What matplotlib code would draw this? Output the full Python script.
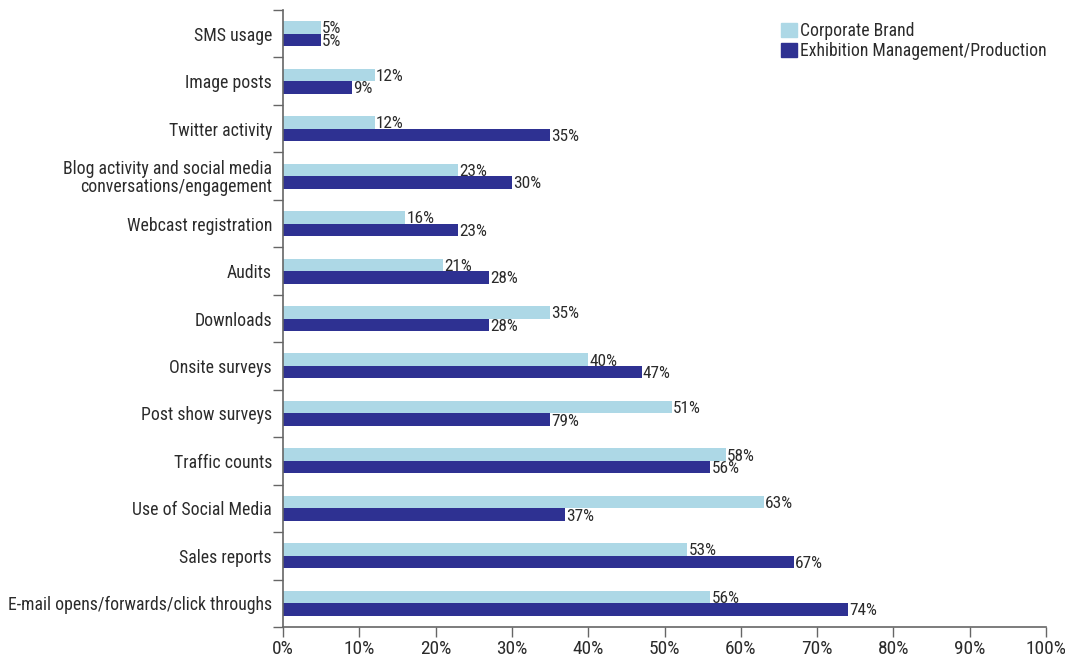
import matplotlib
matplotlib.use("Agg")
import matplotlib.pyplot as plt
from matplotlib import font_manager as fm
from matplotlib.ticker import FixedLocator, PercentFormatter
from matplotlib.patches import Patch
from matplotlib.transforms import ScaledTranslation

categories = ["SMS usage", "Image posts", "Twitter activity",
              "Blog activity and social media\nconversations/engagement",
              "Webcast registration", "Audits", "Downloads", "Onsite surveys",
              "Post show surveys", "Traffic counts", "Use of Social Media",
              "Sales reports", "E-mail opens/forwards/click throughs"]
corporate = [5, 12, 12, 23, 16, 21, 35, 40, 51, 58, 63, 53, 56]
exhibition = [5, 9, 35, 30, 23, 27, 27, 47, 35, 56, 37, 67, 74]
corporate_labels = ["5%", "12%", "12%", "23%", "16%", "21%", "35%", "40%", "51%", "58%", "63%", "53%", "56%"]
exhibition_labels = ["5%", "9%", "35%", "30%", "23%", "28%", "28%", "47%", "79%", "56%", "37%", "67%", "74%"]
xticks = [0, 10, 20, 30, 40, 50, 60, 70, 80, 90, 100]
series_names = ["Corporate Brand", "Exhibition Management/Production"]

light = "#ADD8E6"
dark = "#2E3192"
txt = "#2b2b2b"
axcol = "#666666"

# choose a condensed sans font if one is installed
names = sorted({f.name for f in fm.fontManager.ttflist})
family = None
stretch = "normal"
for pref in ["Liberation Sans Narrow", "Roboto Condensed", "Open Sans Condensed",
             "Noto Sans Condensed", "DejaVu Sans Condensed"]:
    if pref in names:
        family = pref
        break
if family is None:
    others = [n for n in names if ("Condensed" in n or "Narrow" in n) and "Mono" not in n and "Serif" not in n]
    if others:
        family = others[0]
if family is None:
    cond = [f for f in fm.fontManager.ttflist if f.name == "DejaVu Sans" and str(f.stretch) in ("condensed", "semi-condensed", "575", "500") and f.weight in (400, "normal")]
    if cond:
        family = "DejaVu Sans"
        stretch = "condensed"
if family is None:
    family = "Liberation Sans"
plt.rcParams['font.family'] = [family, 'DejaVu Sans']
plt.rcParams['font.stretch'] = stretch

fig = plt.figure(figsize=(10.65, 6.56), dpi=100)
renderer = fig.canvas.get_renderer()

def fit_size(s, target_px, base=10.0):
    t = fig.text(0, 0, s, fontsize=base)
    w = t.get_window_extent(renderer).width
    t.remove()
    return base * target_px / w

ylab_fs = min(fit_size("E-mail opens/forwards/click throughs", 264), 13.5)
xlab_fs = min(fit_size("80%", 31), 14)
bar_fs = min(fit_size("74%", 28), 12.5)
leg_fs = min(fit_size(series_names[1], 246), 13.5)

ax = fig.add_axes([283/1065, 1-627/656, (1046-283)/1065, (627-10)/656])

n = len(categories)
h = 0.264
ys = list(range(n))
ax.barh([y - h/2 for y in ys], corporate, height=h, color=light)
ax.barh([y + h/2 for y in ys], exhibition, height=h, color=dark)

for y, v, lab in zip(ys, corporate, corporate_labels):
    ax.text(v + 0.15, y - h/2 + 0.03, lab, va="center", ha="left", fontsize=bar_fs, color=txt)
for y, v, lab in zip(ys, exhibition, exhibition_labels):
    ax.text(v + 0.15, y + h/2 + 0.03, lab, va="center", ha="left", fontsize=bar_fs, color=txt)

ax.set_xlim(0, 100)
ax.set_ylim(n - 0.5, -0.5)
ax.set_xticks(xticks)
ax.xaxis.set_major_formatter(PercentFormatter(decimals=0))
ax.set_yticks(ys)
ax.set_yticklabels(categories, fontsize=ylab_fs, color=txt, linespacing=1.0)
shift = ScaledTranslation(0, 2.5/100, fig.dpi_scale_trans)
for lab in ax.get_yticklabels():
    lab.set_transform(lab.get_transform() + shift)
ax.yaxis.set_minor_locator(FixedLocator([y + 0.5 for y in range(-1, n)]))
ax.tick_params(axis="y", which="major", length=0, pad=8)
ax.tick_params(axis="y", which="minor", length=7.5, width=1, color=axcol, direction="out")
ax.tick_params(axis="x", length=7.5, width=1, color=axcol, direction="out",
               labelsize=xlab_fs, labelcolor=txt, pad=1.5)
for s in ["top", "right"]:
    ax.spines[s].set_visible(False)
for s in ["left", "bottom"]:
    ax.spines[s].set_color(axcol)
    ax.spines[s].set_linewidth(1.2)

fs_px = leg_fs * 100 / 72
handles = [Patch(color=light), Patch(color=dark)]
fig.legend(handles, series_names, loc="upper left", bbox_to_anchor=(781/1065, 1-22/656),
           frameon=False, fontsize=leg_fs, handlelength=16/fs_px, handleheight=16/fs_px,
           handletextpad=3/fs_px, labelspacing=0.12, labelcolor=txt, borderaxespad=0,
           borderpad=0)

fig.savefig("out.png", dpi=100)
